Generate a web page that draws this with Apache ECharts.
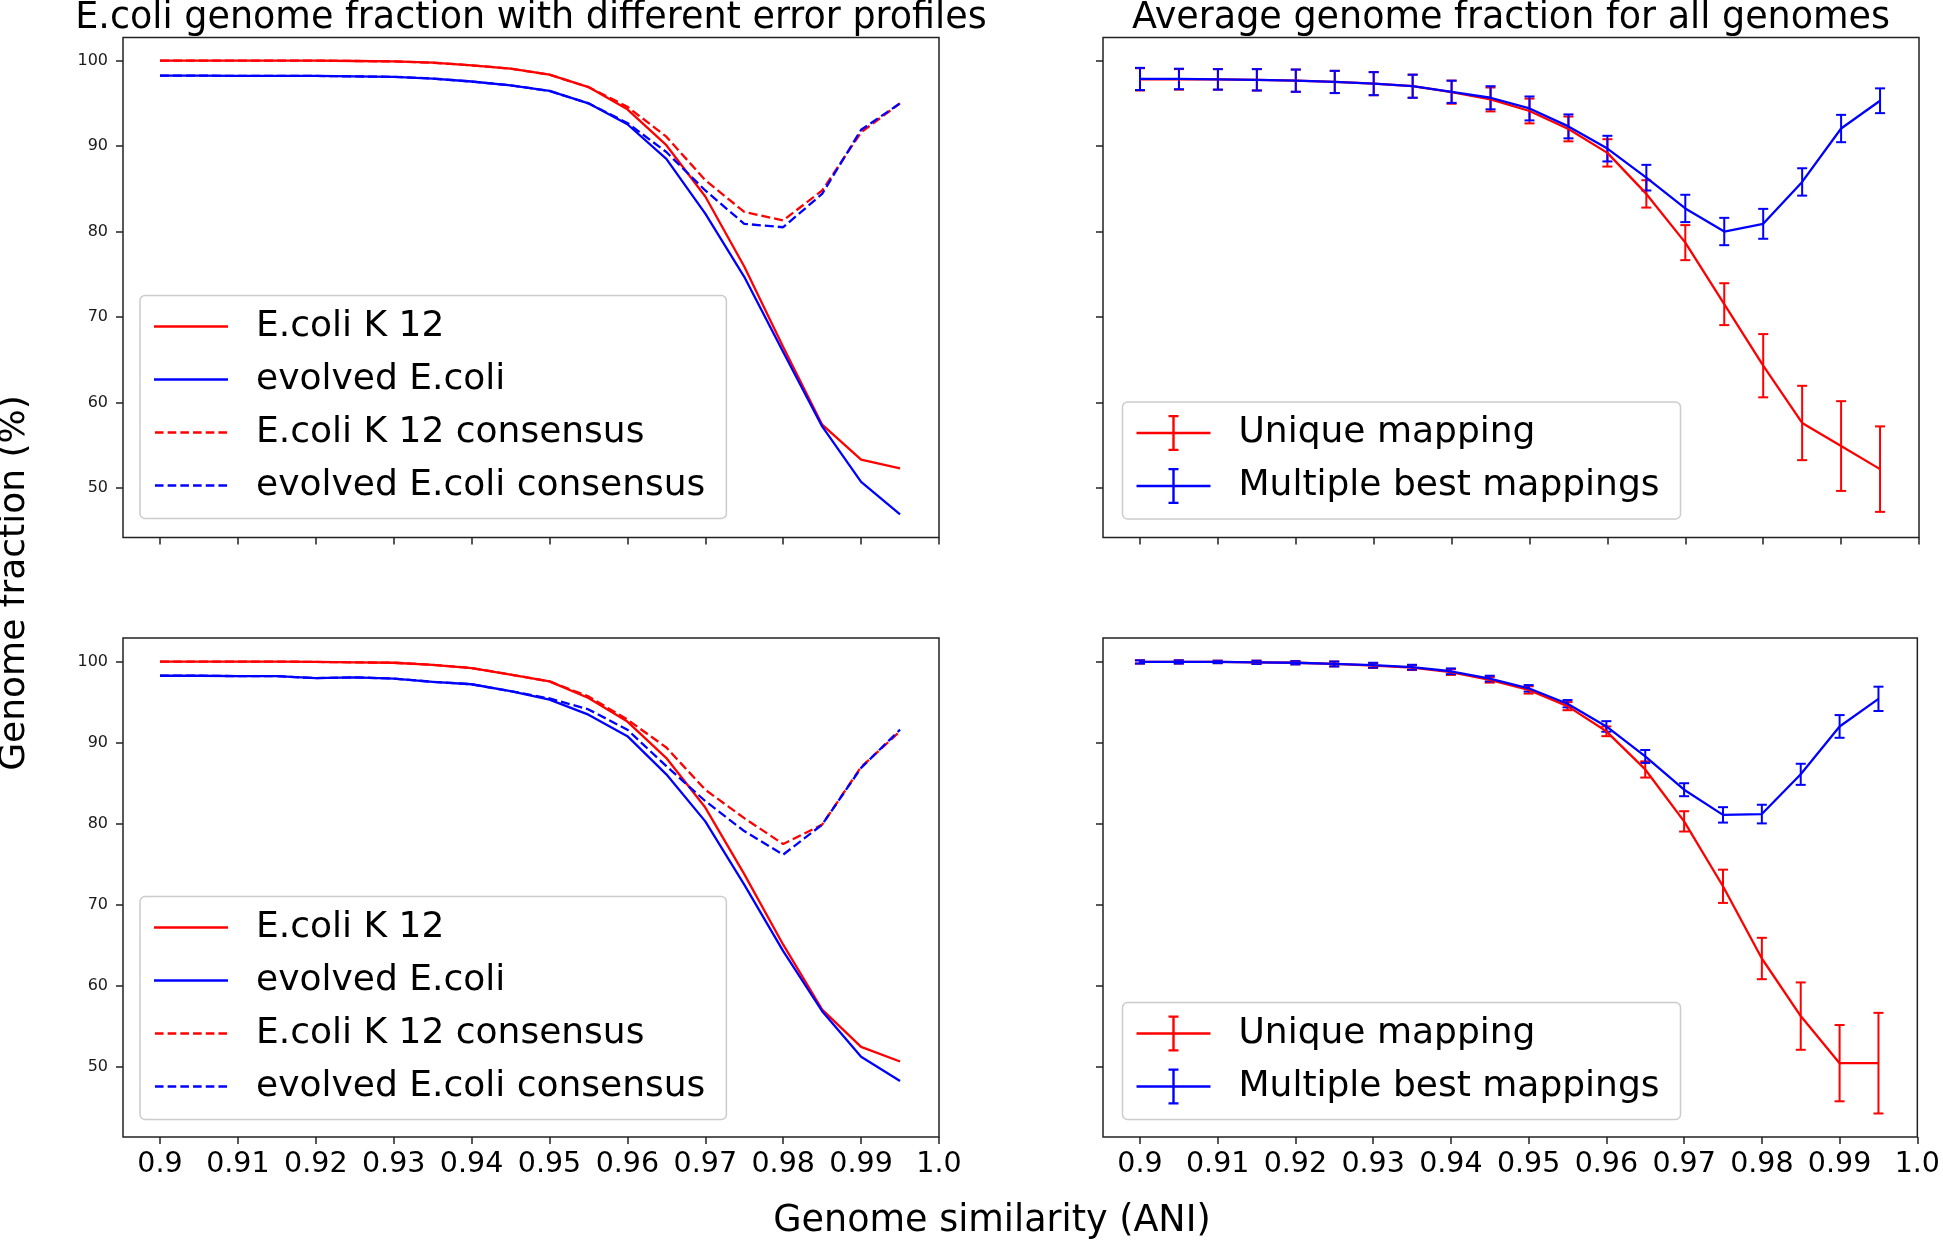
<!DOCTYPE html>
<html>
<head>
<meta charset="utf-8">
<script src="https://cdn.jsdelivr.net/npm/echarts@6/dist/echarts.min.js"></script>
<style>
  html, body { margin: 0; padding: 0; background: #fff; }
  #main { width: 1943px; height: 1241px; }
</style>
</head>
<body>
<div id="main"></div>
<script>
// x values (ANI)
var aniValues = [0.9, 0.905, 0.91, 0.915, 0.92, 0.925, 0.93, 0.935, 0.94, 0.945,
                 0.95, 0.955, 0.96, 0.965, 0.97, 0.975, 0.98, 0.985, 0.99, 0.995];

// top left: error profile 1
var k12Top = [100, 100, 100, 100, 100, 99.95, 99.9, 99.75, 99.45, 99.05, 98.35, 96.9, 94.3, 90.1, 84.1, 75.9, 66.5, 57.4, 53.3, 52.3];
var evolvedTop = [98.25, 98.25, 98.2, 98.2, 98.2, 98.15, 98.1, 97.9, 97.55, 97.1, 96.45, 95.0, 92.55, 88.5, 82.1, 74.7, 65.9, 57.2, 50.7, 46.9];
var k12ConsTop = [100, 100, 100, 100, 100, 99.95, 99.9, 99.75, 99.45, 99.05, 98.35, 96.9, 94.6, 91.1, 86.0, 82.3, 81.3, 84.8, 91.6, 95.0];
var evolvedConsTop = [98.25, 98.25, 98.2, 98.2, 98.2, 98.15, 98.1, 97.9, 97.55, 97.1, 96.45, 95.0, 92.7, 89.3, 84.8, 80.9, 80.5, 84.4, 91.9, 95.0];

// bottom left: error profile 2
var k12Bot = [100, 100, 100, 100, 99.95, 99.9, 99.85, 99.6, 99.2, 98.4, 97.55, 95.5, 92.6, 88.1, 82.0, 73.8, 65.1, 57.1, 52.5, 50.7];
var evolvedBot = [98.25, 98.25, 98.2, 98.2, 97.95, 98.05, 97.9, 97.5, 97.2, 96.35, 95.3, 93.45, 90.8, 86.1, 80.3, 72.5, 64.3, 56.9, 51.3, 48.3];
var k12ConsBot = [100, 100, 100, 100, 99.95, 99.9, 99.85, 99.6, 99.2, 98.4, 97.55, 95.7, 92.85, 89.4, 84.2, 80.7, 77.5, 79.9, 87.0, 91.4];
var evolvedConsBot = [98.25, 98.25, 98.2, 98.2, 97.95, 98.05, 97.9, 97.5, 97.2, 96.35, 95.45, 94.1, 91.6, 87.1, 82.8, 79.1, 76.2, 79.9, 86.9, 91.6];

// top right: averages with std
var uniqueTop = [97.8, 97.8, 97.8, 97.75, 97.65, 97.5, 97.3, 97.0, 96.3, 95.45, 94.1, 92.0, 89.2, 84.4, 78.7, 71.5, 64.3, 57.6, 54.9, 52.2];
var uniqueTopErr = [1.3, 1.2, 1.2, 1.25, 1.3, 1.3, 1.35, 1.35, 1.35, 1.4, 1.45, 1.45, 1.6, 1.6, 2.05, 2.45, 3.7, 4.35, 5.25, 5.0];
var multiTop = [97.85, 97.85, 97.8, 97.75, 97.65, 97.5, 97.3, 97.0, 96.35, 95.65, 94.4, 92.3, 89.7, 86.3, 82.7, 80.0, 80.9, 85.8, 92.05, 95.3];
var multiTopErr = [1.3, 1.2, 1.2, 1.25, 1.3, 1.3, 1.35, 1.35, 1.3, 1.35, 1.4, 1.4, 1.5, 1.5, 1.6, 1.6, 1.75, 1.6, 1.6, 1.45];

// bottom right
var uniqueBot = [99.95, 99.95, 99.95, 99.9, 99.85, 99.7, 99.5, 99.25, 98.7, 97.75, 96.5, 94.5, 91.4, 86.7, 80.3, 72.3, 63.4, 56.3, 50.5, 50.5];
var uniqueBotErr = [0.2, 0.2, 0.15, 0.2, 0.2, 0.3, 0.3, 0.3, 0.35, 0.35, 0.45, 0.5, 0.6, 1.0, 1.25, 2.05, 2.55, 4.15, 4.7, 6.2];
var multiBot = [99.95, 99.95, 99.95, 99.9, 99.85, 99.7, 99.55, 99.3, 98.8, 97.9, 96.7, 94.8, 92.0, 88.3, 84.2, 81.1, 81.2, 86.1, 92.0, 95.4];
var multiBotErr = [0.2, 0.2, 0.15, 0.2, 0.2, 0.3, 0.3, 0.3, 0.35, 0.35, 0.4, 0.45, 0.65, 0.8, 0.8, 0.95, 1.15, 1.3, 1.4, 1.5];

// ticks
var xTicks = [0.9, 0.91, 0.92, 0.93, 0.94, 0.95, 0.96, 0.97, 0.98, 0.99, 1.0];
var xTickLabels = ['0.9', '0.91', '0.92', '0.93', '0.94', '0.95', '0.96', '0.97', '0.98', '0.99', '1.0'];
var yTicks = [50, 60, 70, 80, 90, 100];

var FONT = 'DejaVu Sans';
var RED = '#ff0000';
var BLUE = '#0000ff';

function pairs(ys) {
    return aniValues.map(function (x, i) { return [x, ys[i]]; });
}
function errRows(ys, errs) {
    return aniValues.map(function (x, i) { return [x, ys[i] - errs[i], ys[i] + errs[i]]; });
}

function xLabel(v) {
    for (var i = 0; i < xTicks.length; i++) {
        if (Math.abs(xTicks[i] - v) < 1e-6) return xTickLabels[i];
    }
    return '';
}

// vertical error bar with caps
function renderErrorBar(params, api) {
    var x = api.value(0);
    var lo = api.coord([x, api.value(1)]);
    var hi = api.coord([x, api.value(2)]);
    var style = { stroke: api.visual('color'), lineWidth: 2 };
    var cap = 5;
    return {
        type: 'group',
        children: [
            { type: 'line', shape: { x1: lo[0], y1: lo[1], x2: hi[0], y2: hi[1] }, style: style },
            { type: 'line', shape: { x1: lo[0] - cap, y1: lo[1], x2: lo[0] + cap, y2: lo[1] }, style: style },
            { type: 'line', shape: { x1: hi[0] - cap, y1: hi[1], x2: hi[0] + cap, y2: hi[1] }, style: style }
        ]
    };
}

function lineSeries(name, ys, color, dashed, idx) {
    return {
        type: 'line', name: name, data: pairs(ys),
        xAxisIndex: idx, yAxisIndex: idx,
        color: color, symbol: 'none',
        lineStyle: { color: color, width: 2.3, type: dashed ? [9, 4] : 'solid' }
    };
}

function errSeries(name, ys, errs, color, idx) {
    return {
        type: 'custom', name: name, data: errRows(ys, errs),
        xAxisIndex: idx, yAxisIndex: idx,
        color: color,
        encode: { x: 0, y: [1, 2] },
        renderItem: renderErrorBar
    };
}

var gridBox = { show: true, borderColor: '#222', borderWidth: 1.5, backgroundColor: '#fff' };
var grids = [
    Object.assign({ left: 123, top: 37.5, width: 816, height: 500 }, gridBox),
    Object.assign({ left: 1103, top: 37.5, width: 816, height: 500 }, gridBox),
    Object.assign({ left: 123, top: 638, width: 816, height: 499 }, gridBox),
    Object.assign({ left: 1103, top: 638, width: 816, height: 499 }, gridBox)
];

function makeX(idx, showLabels) {
    return {
        type: 'value', gridIndex: idx, min: 0.89525, max: 1.0,
        axisLine: { show: false },
        splitLine: { show: false },
        axisTick: { show: true, length: 7, customValues: xTicks, lineStyle: { color: '#222', width: 1.5 } },
        axisLabel: {
            show: showLabels, customValues: xTicks, formatter: xLabel,
            fontFamily: FONT, fontSize: 28.5, color: '#000', margin: 13
        }
    };
}

function makeY(idx, yMin, yMax, showLabels) {
    return {
        type: 'value', gridIndex: idx, min: yMin, max: yMax,
        axisLine: { show: false },
        splitLine: { show: false },
        axisTick: { show: true, length: 7, customValues: yTicks, lineStyle: { color: '#222', width: 1.5 } },
        axisLabel: {
            show: showLabels, customValues: yTicks,
            fontFamily: FONT, fontSize: 16, color: '#1a1a1a', margin: 15
        }
    };
}

var dashIcon = 'path://M0,0h8.6v2.4h-8.6z M12.7,0h8.6v2.4h-8.6z M25.4,0h8.6v2.4h-8.6z M38.1,0h8.6v2.4h-8.6z M50.8,0h8.6v2.4h-8.6z M63.5,0h8.6v2.4h-8.6z';
var errIcon = 'path://M0,16.8h74v2.4h-74z M35.8,0h2.4v36h-2.4z M32,0h10v2.2h-10z M32,33.8h10v2.2h-10z';

var legendBase = {
    orient: 'vertical', itemWidth: 74, itemGap: 13,
    padding: [11, 21, 13, 14],
    backgroundColor: 'rgba(255,255,255,0.8)', borderColor: '#cccccc', borderWidth: 1.5, borderRadius: 5,
    selectedMode: false,
    itemStyle: { borderWidth: 0 },
    textStyle: { fontFamily: FONT, fontSize: 36, lineHeight: 36, color: '#000', padding: [4, 0, 0, 23] }
};

var leftLegendData = [
    { name: 'E.coli K 12', icon: 'rect' },
    { name: 'evolved E.coli', icon: 'rect' },
    { name: 'E.coli K 12 consensus', icon: dashIcon },
    { name: 'evolved E.coli consensus', icon: dashIcon }
];
var rightLegendData = [
    { name: 'Unique mapping', icon: errIcon },
    { name: 'Multiple best mappings', icon: errIcon }
];

var option = {
    animation: false,
    backgroundColor: '#fff',
    grid: grids,
    xAxis: [makeX(0, false), makeX(1, false), makeX(2, true), makeX(3, true)],
    yAxis: [
        makeY(0, 44.2, 102.7, true), makeY(1, 44.2, 102.7, false),
        makeY(2, 41.4, 102.9, true), makeY(3, 41.4, 102.9, false)
    ],
    legend: [
        Object.assign({}, legendBase, { data: leftLegendData, left: 140, top: 295.5, itemHeight: 2.4 }),
        Object.assign({}, legendBase, { data: rightLegendData, left: 1122.5, top: 402, itemHeight: 36 }),
        Object.assign({}, legendBase, { data: leftLegendData, left: 140, top: 896.5, itemHeight: 2.4 }),
        Object.assign({}, legendBase, { data: rightLegendData, left: 1122.5, top: 1002.5, itemHeight: 36 })
    ],
    graphic: [
        { type: 'text', x: 531, y: 19, style: { text: 'E.coli genome fraction with different error profiles', font: '36.5px "DejaVu Sans"', fill: '#000', textAlign: 'center', textVerticalAlign: 'middle' } },
        { type: 'text', x: 1511, y: 19, style: { text: 'Average genome fraction for all genomes', font: '36.5px "DejaVu Sans"', fill: '#000', textAlign: 'center', textVerticalAlign: 'middle' } },
        { type: 'text', x: 992, y: 1222, style: { text: 'Genome similarity (ANI)', font: '36.5px "DejaVu Sans"', fill: '#000', textAlign: 'center', textVerticalAlign: 'middle' } },
        { type: 'text', x: 15, y: 583, rotation: Math.PI / 2, style: { text: 'Genome fraction (%)', font: '36px "DejaVu Sans"', fill: '#000', textAlign: 'center', textVerticalAlign: 'middle' } }
    ],
    series: [
        lineSeries('E.coli K 12', k12Top, RED, false, 0),
        lineSeries('evolved E.coli', evolvedTop, BLUE, false, 0),
        lineSeries('E.coli K 12 consensus', k12ConsTop, RED, true, 0),
        lineSeries('evolved E.coli consensus', evolvedConsTop, BLUE, true, 0),

        lineSeries('Unique mapping', uniqueTop, RED, false, 1),
        errSeries('Unique mapping', uniqueTop, uniqueTopErr, RED, 1),
        lineSeries('Multiple best mappings', multiTop, BLUE, false, 1),
        errSeries('Multiple best mappings', multiTop, multiTopErr, BLUE, 1),

        lineSeries('E.coli K 12', k12Bot, RED, false, 2),
        lineSeries('evolved E.coli', evolvedBot, BLUE, false, 2),
        lineSeries('E.coli K 12 consensus', k12ConsBot, RED, true, 2),
        lineSeries('evolved E.coli consensus', evolvedConsBot, BLUE, true, 2),

        lineSeries('Unique mapping', uniqueBot, RED, false, 3),
        errSeries('Unique mapping', uniqueBot, uniqueBotErr, RED, 3),
        lineSeries('Multiple best mappings', multiBot, BLUE, false, 3),
        errSeries('Multiple best mappings', multiBot, multiBotErr, BLUE, 3)
    ]
};

var chart = echarts.init(document.getElementById('main'));
chart.setOption(option);
window.addEventListener('resize', function () { chart.resize(); });
</script>
</body>
</html>
